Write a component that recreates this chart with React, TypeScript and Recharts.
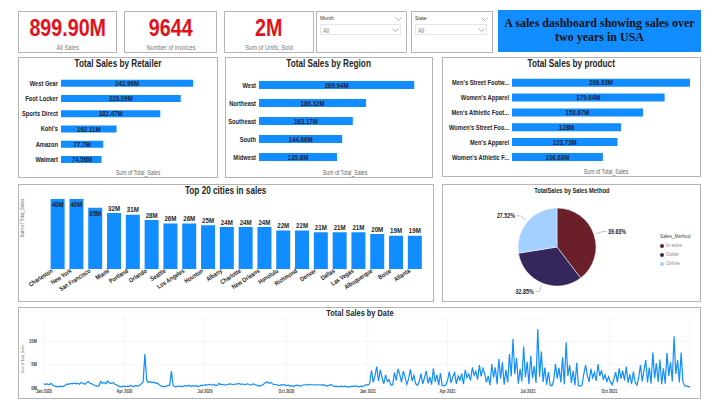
import React from 'react';
import {
  Bar,
  BarChart,
  CartesianGrid,
  Cell,
  LabelList,
  Line,
  LineChart,
  Pie,
  PieChart,
  XAxis,
  YAxis,
} from 'recharts';

const kpiValues = ['899.90M', '9644', '2M'];
const kpiLabels = ['All Sales', 'Number of invoices', 'Sum of Units, Sold'];

const retailers = ['West Gear', 'Foot Locker', 'Sports Direct', "Kohl's", 'Amazon', 'Walmart'];
const retailerSales = [242.96, 220.09, 182.47, 102.11, 77.7, 74.56];

const regions = ['West', 'Northeast', 'Southeast', 'South', 'Midwest'];
const regionSales = [269.94, 186.32, 163.17, 144.66, 135.8];

const products = [
  "Men's Street Footwear",
  "Women's Apparel",
  "Men's Athletic Footwear",
  "Women's Street Footwear",
  "Men's Apparel",
  "Women's Athletic Footwear",
];
const productSales = [208.83, 179.04, 153.67, 128, 123.73, 106.63];

const cities = [
  'Charleston', 'New York', 'San Francisco', 'Miami', 'Portland', 'Orlando', 'Seattle',
  'Los Angeles', 'Houston', 'Albany', 'Charlotte', 'New Orleans', 'Honolulu', 'Richmond',
  'Denver', 'Dallas', 'Las Vegas', 'Albuquerque', 'Boise', 'Atlanta',
];
const citySales = [40, 40, 35, 32, 31, 28, 26, 26, 25, 24, 24, 24, 22, 22, 21, 21, 21, 20, 19, 19];

const salesMethods = ['In-store', 'Outlet', 'Online'];
const salesMethodShare = [39.63, 32.85, 27.52];
const salesMethodColors = ['#6b2029', '#35275c', '#a3d0ff'];

const dateTickLabels = ['Jan 2020', 'Apr 2020', 'Jul 2020', 'Oct 2020', 'Jan 2021', 'Apr 2021', 'Jul 2021', 'Oct 2021'];
const dateTickDays = [0, 91, 182, 274, 366, 456, 547, 639];

// sales (M) every second day from 1 Jan 2020
const sales2020 = [
  0.9, 0.8, 0.9, 0.7, 1.0, 0.6, 0.4, 0.3, 0.3, 0.4, 0.3, 0.4, 0.6, 0.9, 0.8, 1.0,
  0.9, 1.1, 0.9, 1.0, 0.8, 1.2, 1.0, 0.8, 1.1, 1.4, 1.0, 0.9, 0.7, 0.5, 0.4,
  0.4, 1.4, 1.0, 1.2, 0.9, 1.5, 1.1, 1.0, 1.2, 0.8, 0.7, 0.4, 0.3, 0.3, 0.4,
  0.3, 0.4, 0.3, 0.6, 0.3, 0.4, 0.5, 0.4, 0.6, 0.9, 1.3, 7.3, 1.6, 1.2, 1.4,
  1.1, 1.3, 1.0, 1.1, 0.7, 0.5, 0.3, 0.3, 0.4, 0.5, 0.6, 3.6, 0.5, 0.3, 0.3, 0.4,
  0.4, 0.3, 0.4, 0.5, 0.4, 0.6, 0.3, 0.5, 0.4, 0.5, 0.3, 0.4, 0.6, 0.5,
  0.7, 0.6, 0.8, 0.7, 0.6, 0.8, 0.5, 0.6, 1.0, 0.7, 0.8, 0.6, 0.7, 0.8, 0.9, 0.8,
  0.7, 0.9, 0.8, 1.0, 0.8, 0.9, 0.7, 0.8, 0.9, 0.7, 0.6, 0.9, 0.8, 0.6, 0.5, 0.4,
  0.6, 0.8, 1.1, 1.3, 1.0, 1.2, 0.9, 0.7, 0.8, 0.6, 0.5, 0.7, 0.6, 0.7,
  0.5, 0.6, 0.4, 0.5, 0.3, 0.5, 0.6, 0.5, 0.4, 0.6, 0.7, 0.7, 0.6, 0.8, 0.7, 0.7,
  0.7, 0.6, 0.7, 0.7, 0.6, 0.7, 0.5, 0.4, 0.6, 0.7, 0.6, 0.3, 0.4, 0.3, 0.3,
  0.4, 0.3, 0.4, 0.3, 0.2, 0.3, 0.4, 0.3, 0.5, 0.3, 0.3, 0.4, 0.3, 0.5, 0.7,
];

// sales (M) every second day from 1 Jan 2021
const sales2021 = [
  0.6, 0.9, 3.8, 1.2, 2.6, 4.6, 1.5, 3.9, 2.2, 0.9, 2.8, 1.4, 1.8, 0.6, 0.7,
  3.3, 1.6, 4.1, 2.9, 1.2, 3.6, 2.4, 0.8, 1.9, 4.0, 1.5, 2.7, 0.9, 0.6,
  1.4, 3.1, 0.9, 2.2, 3.7, 1.0, 2.4, 0.7, 4.2, 1.3, 2.8, 0.6, 3.2, 0.5, 0.5,
  0.6, 1.6, 3.5, 1.1, 2.4, 3.3, 0.9, 2.6, 1.7, 3.1, 0.8, 3.9, 2.2, 3.0, 1.6,
  4.4, 2.7, 3.6, 1.8, 4.9, 2.5, 4.2, 3.1, 1.2, 2.6, 0.6, 5.1, 2.2, 4.4, 0.8, 6.2,
  2.0, 5.5, 0.7, 3.9, 1.2, 7.3, 2.5, 10.5, 3.0, 6.4, 0.9, 4.1, 1.4, 8.9, 2.3,
  5.6, 0.8, 6.9, 2.1, 4.7, 1.1, 12.6, 2.4, 7.8, 1.3, 4.4, 0.7, 3.4, 0.6, 0.5,
  1.6, 5.2, 2.0, 4.3, 1.2, 6.6, 0.8, 9.8, 2.6, 4.9, 1.1, 3.7, 0.6, 5.4, 0.5, 0.4,
  0.6, 3.0, 4.9, 2.7, 1.3, 4.1, 2.2, 3.3, 1.5, 5.1, 2.6, 3.8, 1.9, 2.8, 1.4,
  2.4, 1.3, 0.7, 1.9, 3.4, 1.2, 4.2, 2.0, 3.7, 1.6, 4.6, 1.1, 2.9, 0.8, 3.5, 1.2,
  0.6, 2.2, 4.9, 1.4, 3.8, 6.0, 1.2, 4.4, 0.9, 7.6, 2.1, 5.3, 1.3, 6.1, 0.8,
  4.2, 0.9, 7.5, 2.6, 5.5, 1.4, 11.1, 3.0, 6.0, 1.2, 7.6, 1.3, 0.5, 0.4, 0.3, 0.3,
];

const BLUE = '#118dff';
const DARK = '#252423';
const SANS = "'Liberation Sans', Arial, sans-serif";
// no DIN-like narrow font installed, so squeeze Liberation Sans horizontally
const SQUEEZE = 0.82;

const toRows = (names: string[], values: number[]) => names.map((name, i) => ({ name, value: values[i] }));

let ctx: CanvasRenderingContext2D | null = null;
const textWidth = (text: string, size: number, weight: number) => {
  if (!ctx) ctx = document.createElement('canvas').getContext('2d');
  if (!ctx) return text.length * size * 0.5 * SQUEEZE;
  ctx.font = `${weight} ${size}px ${SANS}`;
  return ctx.measureText(text).width * SQUEEZE;
};

const fitLabel = (text: string, maxWidth: number, size: number) => {
  if (textWidth(text, size, 700) <= maxWidth) return text;
  let s = text;
  while (s.length > 1 && textWidth(s + '...', size, 700) > maxWidth) s = s.slice(0, -1);
  return s + '...';
};

// svg text squeezed to the narrow width
const NText = ({ text, size, weight = 700, ...rest }: any) => (
  <text
    {...rest}
    fontFamily={SANS}
    fontSize={size}
    fontWeight={weight}
    textLength={textWidth(text, size, weight)}
    lengthAdjust="spacingAndGlyphs"
  >
    {text}
  </text>
);

// html text squeezed to the narrow width
const HText = ({ text, size, weight = 400, color = DARK, origin = 'center' }: any) => (
  <span
    style={{
      display: 'block', transform: `scaleX(${SQUEEZE})`, transformOrigin: origin,
      fontFamily: SANS, fontSize: size, fontWeight: weight, color, lineHeight: 1, whiteSpace: 'nowrap',
    }}
  >
    {text}
  </span>
);

// absolutely placed row that holds one HText without an inherited line box
const TextRow = ({ left = 0, width, top, justify = 'center', children }: any) => (
  <div
    style={{
      position: 'absolute', left, top, width: width ?? '100%', display: 'flex',
      justifyContent: justify, alignItems: 'flex-start', fontSize: 0, lineHeight: 0,
    }}
  >
    {children}
  </div>
);

const Panel = ({ x, y, w, h, children }: any) => (
  <div
    style={{
      position: 'absolute', left: x, top: y, width: w, height: h,
      border: '1.5px solid #b4b4b4', boxSizing: 'border-box', background: '#fff',
    }}
  >
    {children}
  </div>
);

const Title = ({ text, top, size = 10 }: any) => (
  <TextRow top={top}>
    <HText text={text} size={size} weight={700} />
  </TextRow>
);

const AxisNote = ({ text, left, top, size = 6.3 }: any) => (
  <TextRow left={left - 50} width={100} top={top}>
    <HText text={text} size={size} color="#666" />
  </TextRow>
);

const VerticalNote = ({ text, cx, cy, size }: any) => (
  <div
    style={{
      position: 'absolute', left: cx - 40, top: cy - size / 2, width: 80, height: size,
      display: 'flex', justifyContent: 'center', fontSize: 0, lineHeight: 0, transform: 'rotate(-90deg)',
    }}
  >
    <HText text={text} size={size} color="#666" />
  </div>
);

const Chevron = ({ x, y }: any) => (
  <svg style={{ position: 'absolute', left: x, top: y }} width={7} height={5}>
    <polyline points="0.5,0.5 3.5,3.5 6.5,0.5" fill="none" stroke="#999" strokeWidth={0.8} />
  </svg>
);

const Slicer = ({ x, w, label }: any) => (
  <Panel x={x} y={11} w={w} h={42}>
    <TextRow left={3} width={40} top={3} justify="flex-start">
      <HText text={label} size={6} color="#333" origin="left" />
    </TextRow>
    <Chevron x={w - 13} y={5} />
    <div
      style={{
        position: 'absolute', left: 3, right: 5, top: 12, height: 11,
        border: '1px solid #e6e6e6', boxSizing: 'border-box',
      }}
    >
      <TextRow left={2} width={30} top={2} justify="flex-start">
        <HText text="All" size={7} color="#888" origin="left" />
      </TextRow>
      <Chevron x={w - 20} y={3} />
    </div>
  </Panel>
);

const InsideLabel = (props: any) => {
  const { x, y, width, height, value } = props;
  const cx = Math.max(x + width / 2, x + 21);
  return (
    <NText text={`${value}M`} size={7.5} x={cx} y={y + height / 2 + 2.6} textAnchor="middle" fill="#1f1f3a" />
  );
};

const CategoryTick = (props: any) => {
  const { x, y, payload, maxWidth } = props;
  return (
    <NText text={fitLabel(payload.value, maxWidth, 7)} size={7} x={x} y={y + 2.5} textAnchor="end" fill={DARK} />
  );
};

const HBarChart = ({ data, width, height, left, right, top, bottom, max, gap, labelWidth }: any) => (
  <BarChart
    layout="vertical" data={data} width={width} height={height}
    margin={{ top, right, bottom, left: 0 }} barCategoryGap={gap}
  >
    <XAxis type="number" domain={[0, max]} hide />
    <YAxis
      type="category" dataKey="name" width={left} tickLine={false} axisLine={false}
      tickSize={0} tickMargin={3} interval={0}
      tick={(p: any) => <CategoryTick {...p} maxWidth={labelWidth ?? left - 2} />}
    />
    <Bar dataKey="value" fill={BLUE} isAnimationActive={false}>
      <LabelList dataKey="value" content={InsideLabel} />
    </Bar>
  </BarChart>
);

const CityTick = (props: any) => {
  const { x, y, payload } = props;
  const tx = x - 4;
  const ty = y + 2;
  return (
    <NText
      text={payload.value} size={6.4} x={tx} y={ty} transform={`rotate(-33, ${tx}, ${ty})`}
      textAnchor="end" fill={DARK}
    />
  );
};

const CityLabel = (props: any) => {
  const { x, y, width, value } = props;
  const inside = y - 9 < 15;
  return (
    <NText text={`${value}M`} size={7.5} x={x + width / 2} y={inside ? y + 8 : y - 2.5} textAnchor="middle" fill={DARK} />
  );
};

const RADIAN = Math.PI / 180;
const PieLabel = (props: any) => {
  const { cx, cy, midAngle, outerRadius, value } = props;
  const cos = Math.cos(-midAngle * RADIAN);
  const sin = Math.sin(-midAngle * RADIAN);
  const sx = cx + (outerRadius + 2) * cos;
  const sy = cy + (outerRadius + 2) * sin;
  const ex = cx + (outerRadius + 9) * cos;
  const ey = cy + (outerRadius + 9) * sin;
  const right = cos >= 0;
  const lx = ex + (right ? 4 : -4);
  return (
    <g>
      <polyline points={`${sx},${sy} ${ex},${ey} ${lx},${ey}`} fill="none" stroke="#999" strokeWidth={0.6} />
      <NText
        text={`${value.toFixed(2)}%`} size={6.5} x={lx + (right ? 1.5 : -1.5)} y={ey + 2.3}
        textAnchor={right ? 'start' : 'end'} fill={DARK}
      />
    </g>
  );
};

const DateTick = (props: any) => {
  const { x, y, payload } = props;
  return (
    <NText
      text={dateTickLabels[dateTickDays.indexOf(payload.value)]} size={4.6} x={x} y={y + 4}
      textAnchor="middle" fill="#444"
    />
  );
};

const SalesTick = (props: any) => {
  const { x, y, payload } = props;
  return <NText text={`${payload.value}M`} size={5} x={x} y={y + 1.8} textAnchor="end" fill="#444" />;
};

export default function App() {
  const retailerRows = toRows(retailers, retailerSales);
  const regionRows = toRows(regions, regionSales);
  const productRows = toRows(products, productSales);
  const cityRows = toRows(cities, citySales);
  const methodRows = toRows(salesMethods, salesMethodShare);
  const lineData = [
    ...sales2020.map((v, i) => ({ day: i * 2, sales: v })),
    ...sales2021.map((v, i) => ({ day: 366 + i * 2, sales: v })),
  ];
  const kpiX = [18, 124, 224];
  const kpiW = [99, 93, 90];

  return (
    <div
      style={{
        position: 'absolute', left: 0, top: 0, width: 720, height: 413,
        background: '#fff', overflow: 'hidden', fontFamily: SANS,
      }}
    >
      {kpiValues.map((v, i) => (
        <Panel key={v} x={kpiX[i]} y={11} w={kpiW[i]} h={42}>
          <TextRow top={4}>
            <HText text={v} size={24} weight={700} color="#e5101d" />
          </TextRow>
          <TextRow top={32}>
            <HText text={kpiLabels[i]} size={7} color="#777" />
          </TextRow>
        </Panel>
      ))}

      <Slicer x={316} w={91} label="Month" />
      <Slicer x={411} w={82} label="State" />

      <div
        style={{
          position: 'absolute', left: 498, top: 10, width: 203, height: 42, background: BLUE,
          fontFamily: "'Liberation Serif', 'DejaVu Serif', serif", fontWeight: 700, fontSize: 12,
          lineHeight: '14px', color: '#111', textAlign: 'center', paddingTop: 6, boxSizing: 'border-box',
        }}
      >
        A sales dashboard showing sales over
        <br />
        two years in USA
      </div>

      <Panel x={18} y={57} w={200} h={121}>
        <Title text="Total Sales by Retailer" top={1} />
        <HBarChart
          data={retailerRows} width={197} height={118} left={42} right={19}
          top={17.5} bottom={9} max={250} gap="28%"
        />
        <AxisNote text="Sum of Total_Sales" left={119} top={112} />
      </Panel>

      <Panel x={225} y={57} w={208} h={121}>
        <Title text="Total Sales by Region" top={1} />
        <HBarChart
          data={regionRows} width={205} height={118} left={33} right={11}
          top={18} bottom={10} max={280} gap="28%"
        />
        <AxisNote text="Sum of Total_Sales" left={119} top={112} />
      </Panel>

      <Panel x={442} y={57} w={259} h={120}>
        <Title text="Total Sales by product" top={1} />
        <HBarChart
          data={productRows} width={256} height={117} left={69} right={8}
          top={17.5} bottom={10.5} max={210} gap="22%" labelWidth={60}
        />
        <AxisNote text="Sum of Total_Sales" left={163} top={111} />
      </Panel>

      <Panel x={18} y={184} w={416} h={118}>
        <Title text="Top 20 cities in sales" top={1} />
        <VerticalNote text="Sum of Total_Sales" cx={4} cy={33} size={5.5} />
        <BarChart
          data={cityRows} width={413} height={115}
          margin={{ top: 14, right: 8, bottom: 0, left: 29 }} barCategoryGap="14%"
        >
          <XAxis
            dataKey="name" interval={0} tickLine={false} axisLine={false} tickSize={0}
            tickMargin={1} height={31} tick={CityTick}
          />
          <YAxis domain={[0, 40]} hide />
          <Bar dataKey="value" fill={BLUE} isAnimationActive={false}>
            <LabelList dataKey="value" content={CityLabel} />
          </Bar>
        </BarChart>
      </Panel>

      <Panel x={442} y={184} w={259} h={118}>
        <Title text="TotalSales by Sales Method" top={2} size={7} />
        <PieChart width={256} height={115}>
          <Pie
            data={methodRows} dataKey="value" nameKey="name" cx={109} cy={57}
            outerRadius={39} startAngle={90} endAngle={-270} stroke="#fff" strokeWidth={0.5}
            label={PieLabel} labelLine={false} isAnimationActive={false}
          >
            {methodRows.map((r, i) => (
              <Cell key={r.name} fill={salesMethodColors[i]} />
            ))}
          </Pie>
        </PieChart>
        <div style={{ position: 'absolute', left: 217, top: 47, fontSize: 0, lineHeight: 0 }}>
          <div style={{ height: 9, display: 'flex', alignItems: 'center' }}>
            <HText text="Sales_Method" size={5.8} color="#444" origin="left" />
          </div>
          {salesMethods.map((m, i) => (
            <div key={m} style={{ display: 'flex', alignItems: 'center', height: 9 }}>
              <span
                style={{
                  display: 'inline-block', width: 4, height: 4, borderRadius: 2,
                  background: salesMethodColors[i], marginRight: 2,
                }}
              />
              <HText text={m} size={5.8} color="#888" origin="left" />
            </div>
          ))}
        </div>
      </Panel>

      <Panel x={18} y={307} w={683} h={92}>
        <Title text="Total Sales by Date" top={1} size={9} />
        <VerticalNote text="Sum of Total_Sales" cx={4} cy={51} size={4} />
        <LineChart data={lineData} width={680} height={89} margin={{ top: 10, right: 9, bottom: 0, left: 0 }}>
          <CartesianGrid stroke="#f0f0f0" strokeWidth={0.6} />
          <XAxis
            type="number" dataKey="day" domain={[0, 730]} ticks={dateTickDays}
            tickLine={false} axisLine={false} tickSize={0} tickMargin={1} height={9} tick={DateTick}
          />
          <YAxis
            domain={[0, 15]} ticks={[0, 5, 10]} width={25} tickLine={false} axisLine={false}
            tickSize={0} tickMargin={7} tick={SalesTick}
          />
          <Line
            type="linear" dataKey="sales" stroke={BLUE} strokeWidth={1.2} dot={false}
            isAnimationActive={false}
          />
        </LineChart>
      </Panel>
    </div>
  );
}
